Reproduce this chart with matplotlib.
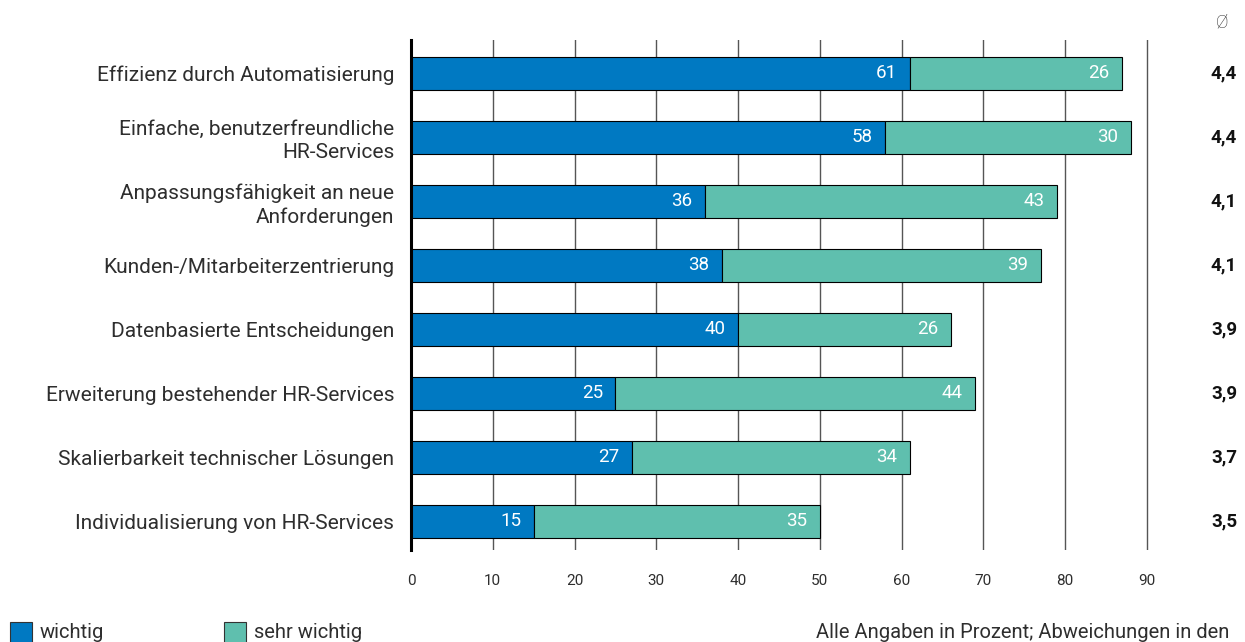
import matplotlib.pyplot as plt
import matplotlib.transforms as mtransforms
import numpy as np

categories = [
    "Effizienz durch Automatisierung",
    "Einfache, benutzerfreundliche\nHR-Services",
    "Anpassungsfähigkeit an neue\nAnforderungen",
    "Kunden-/Mitarbeiterzentrierung",
    "Datenbasierte Entscheidungen",
    "Erweiterung bestehender HR-Services",
    "Skalierbarkeit technischer Lösungen",
    "Individualisierung von HR-Services",
]
wichtig = [61, 58, 36, 38, 40, 25, 27, 15]
sehr_wichtig = [26, 30, 43, 39, 26, 44, 34, 35]
averages = ["4,4", "4,4", "4,1", "4,1", "3,9", "3,9", "3,7", "3,5"]
xticks = [0, 10, 20, 30, 40, 50, 60, 70, 80, 90]

blue = "#0079c2"
teal = "#5fbfae"
ink = "#2e2e2e"

plt.rcParams["font.family"] = ["Roboto", "DejaVu Sans"]

W, H = 1245, 642
x0, x90 = 411, 1147
xmax = 90.6
fig = plt.figure(figsize=(W / 100, H / 100), dpi=100)
ax_w = (x90 - x0) / 90 * xmax
ax = fig.add_axes([x0 / W, 1 - 550 / H, ax_w / W, 510 / H])

y = np.arange(len(categories))
h = 0.52
ax.barh(y, wichtig, height=h, color=blue, edgecolor="black", linewidth=0.8, zorder=3)
ax.barh(y, sehr_wichtig, left=wichtig, height=h, color=teal, edgecolor="black",
        linewidth=0.8, zorder=3)

# average column sits at a fixed figure x, aligned with each bar row
avg_trans = mtransforms.blended_transform_factory(fig.transFigure, ax.transData)
for i in range(len(categories)):
    ax.text(wichtig[i] - 1.55, y[i], str(wichtig[i]), ha="right", va="center",
            color="white", fontsize=13.5, zorder=4)
    end = wichtig[i] + sehr_wichtig[i]
    ax.text(end - 1.55, y[i], str(sehr_wichtig[i]), ha="right", va="center",
            color="white", fontsize=13.5, zorder=4)
    ax.text(1237 / W, y[i], averages[i], transform=avg_trans, ha="right",
            va="center", fontsize=13.5, fontweight="bold", color="#111111")

fig.text(1222 / W, 1 - 23 / H, "Ø", ha="center", va="center", fontsize=13.5,
         fontweight="light", color=ink)

ax.set_xlim(0, xmax)
ax.set_ylim(len(categories) - 1 + 0.45, -0.52)
ax.set_yticks(y)
ax.set_yticklabels(categories, fontsize=15, color=ink, linespacing=1.25)
ax.set_xticks(xticks)
ax.set_xticklabels([str(t) for t in xticks], fontsize=11, color=ink)
ax.tick_params(axis="y", length=0, pad=12)
ax.tick_params(axis="x", length=0, pad=17)

ax.grid(axis="x", color="#555555", linewidth=1.0, zorder=0)
ax.set_axisbelow(True)
for s in ["top", "right", "bottom"]:
    ax.spines[s].set_visible(False)
ax.spines["left"].set_linewidth(2.2)
ax.spines["left"].set_color("black")
ax.spines["left"].set_zorder(5)

# legend boxes and note along the bottom edge
fig.patches.append(plt.Rectangle((10 / W, -0.002), 22 / W, 21 / H,
                                 transform=fig.transFigure, facecolor=blue,
                                 edgecolor="#333333", linewidth=0.8))
fig.text(40 / W, 1 - 633 / H, "wichtig", fontsize=14.5, va="center", color=ink)
fig.patches.append(plt.Rectangle((224 / W, -0.002), 22 / W, 21 / H,
                                 transform=fig.transFigure, facecolor=teal,
                                 edgecolor="#333333", linewidth=0.8))
fig.text(254 / W, 1 - 633 / H, "sehr wichtig", fontsize=14.5, va="center", color=ink)
fig.text(816 / W, 1 - 633 / H, "Alle Angaben in Prozent; Abweichungen in den",
         fontsize=14.5, va="center", color=ink)

fig.savefig("out.png", dpi=100)
